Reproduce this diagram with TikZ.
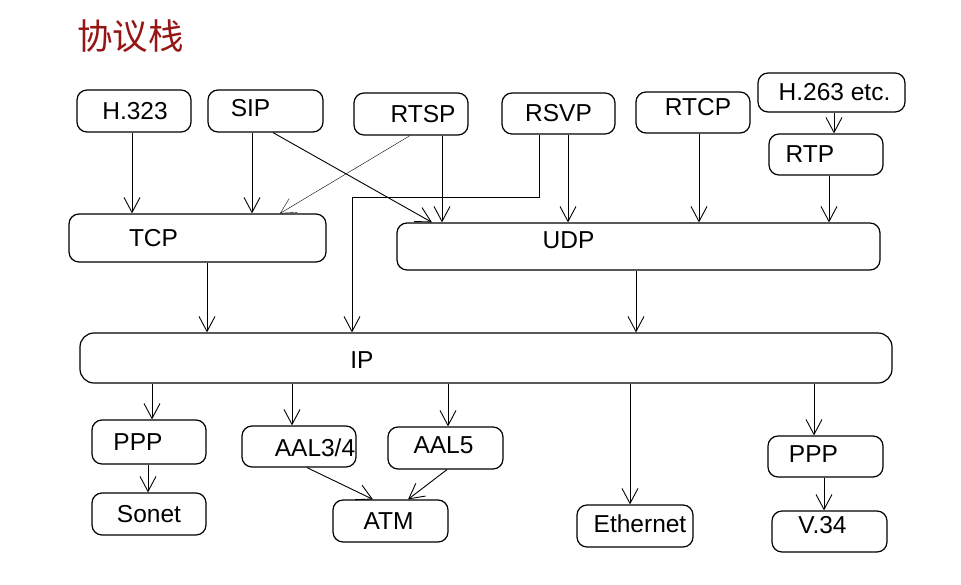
\documentclass[tikz,border=0pt]{standalone}
\usepackage{fontspec}
\setmainfont{Liberation Sans}
\newfontfamily\cjk{Noto Sans CJK SC}
\usetikzlibrary{arrows.meta, fit}
\definecolor{titlered}{RGB}{150,22,22}
\tikzset{
    box/.style={draw, line width=1.2pt, rounded corners=10pt, inner sep=0pt},
    link/.style={->, line width=0.9pt},
}
\begin{document}
\begin{tikzpicture}[x=1pt, y=-1pt, >={Straight Barb[length=15pt, width=16pt]},
    font=\fontsize{24.5}{28}\selectfont]
    % 1. Vùng hiển thị
    \useasboundingbox (0,0) rectangle (961,584);

    % 2. Tiêu đề
    \node[anchor=west, inner sep=0pt, text=titlered, font=\cjk\fontsize{35.5}{40}\selectfont]
        (title) at (77,36) {协议栈};

    % 3. Tầng ứng dụng
    \node[box, fit={(77,90) (191,132)}, label={[xshift=1pt]center:H.323}] (h323) {};
    \node[box, fit={(208,90) (323,132)}, label={[xshift=-15pt, yshift=3pt]center:SIP}] (sip) {};
    \node[box, fit={(354,93) (468,135)}, label={[xshift=12pt]center:RTSP}] (rtsp) {};
    \node[box, fit={(502,93) (615,134)}, label={center:RSVP}] (rsvp) {};
    \node[box, fit={(636,92) (750,133)}, label={[xshift=5pt, yshift=5pt]center:RTCP}] (rtcp) {};
    \node[box, fit={(758,73) (905,112)}, label={[xshift=3pt]center:H.263 etc.}] (h263) {};
    \node[box, fit={(769,134) (883,175)}, label={[xshift=-16pt]center:RTP}] (rtp) {};

    % 4. Tầng vận chuyển và IP
    \node[box, fit={(69,214) (326,262)}, label={[xshift=-44pt]center:TCP}] (tcp) {};
    \node[box, fit={(397,223) (880,270)}, label={[xshift=-70pt, yshift=6pt]center:UDP}] (udp) {};
    \node[box, rounded corners=14pt, fit={(80,333) (892,383)},
        label={[xshift=-124pt, yshift=-2pt]center:IP}] (ip) {};

    % 5. Tầng liên kết
    \node[box, fit={(92,420) (206,464)}, label={[xshift=-11pt]center:PPP}] (pppl) {};
    \node[box, fit={(92,493) (206,535)}, label={center:Sonet}] (sonet) {};
    \node[box, fit={(242,426) (356,467)}, label={[xshift=16pt, yshift=-1pt]center:AAL3/4}] (aal34) {};
    \node[box, fit={(388,427) (503,469)}, label={[xshift=-2pt, yshift=3pt]center:AAL5}] (aal5) {};
    \node[box, fit={(333,500) (448,542)}, label={[xshift=-2pt]center:ATM}] (atm) {};
    \node[box, fit={(577,505) (693,547)}, label={[xshift=5pt, yshift=2pt]center:Ethernet}] (ether) {};
    \node[box, fit={(768,436) (883,477)}, label={[xshift=-12pt, yshift=2pt]center:PPP}] (pppr) {};
    \node[box, fit={(772,511) (887,552)}, label={[xshift=-7pt, yshift=6pt]center:V.34}] (v34) {};

    % 6. Mũi tên xuống TCP và UDP
    \draw[link] (h323.south -| 132,0) -- (tcp.north -| 132,0);
    \draw[link] (sip.south -| 252,0) -- (tcp.north -| 252,0);
    \draw[link] (sip.south -| 273,0) -- (udp.north -| 432,0);
    \draw[link, line width=0.4pt] (rtsp.south -| 410,0) -- (tcp.north -| 280,0);
    \draw[link] (rtsp.south -| 442,0) -- (udp.north -| 442,0);
    \draw[link] (rsvp.south -| 568,0) -- (udp.north -| 568,0);
    \draw[link] (rtcp.south -| 699,0) -- (udp.north -| 699,0);
    \draw[link] (h263.south -| 834,0) -- (rtp.north -| 834,0);
    \draw[link] (rtp.south -| 829,0) -- (udp.north -| 829,0);

    % 7. Mũi tên xuống IP
    \draw[link] (rsvp.south -| 539,0) -- (539,197) -- (352,197) -- (ip.north -| 352,0);
    \draw[link] (tcp.south -| 207,0) -- (ip.north -| 207,0);
    \draw[link] (udp.south -| 636,0) -- (ip.north -| 636,0);

    % 8. Mũi tên từ IP xuống tầng liên kết
    \draw[link] (ip.south -| 152,0) -- (pppl.north -| 152,0);
    \draw[link] (ip.south -| 292,0) -- (aal34.north -| 292,0);
    \draw[link] (ip.south -| 448,0) -- (aal5.north -| 448,0);
    \draw[link] (ip.south -| 630,0) -- (ether.north -| 630,0);
    \draw[link] (ip.south -| 814,0) -- (pppr.north -| 814,0);
    \draw[link] (pppl.south -| 148,0) -- (sonet.north -| 148,0);
    \draw[link] (aal34.south -| 307,0) -- (atm.north -| 373,0);
    \draw[link] (aal5.south -| 447,0) -- (atm.north -| 408,0);
    \draw[link] (pppr.south -| 824,0) -- (v34.north -| 824,0);
\end{tikzpicture}
\end{document}
